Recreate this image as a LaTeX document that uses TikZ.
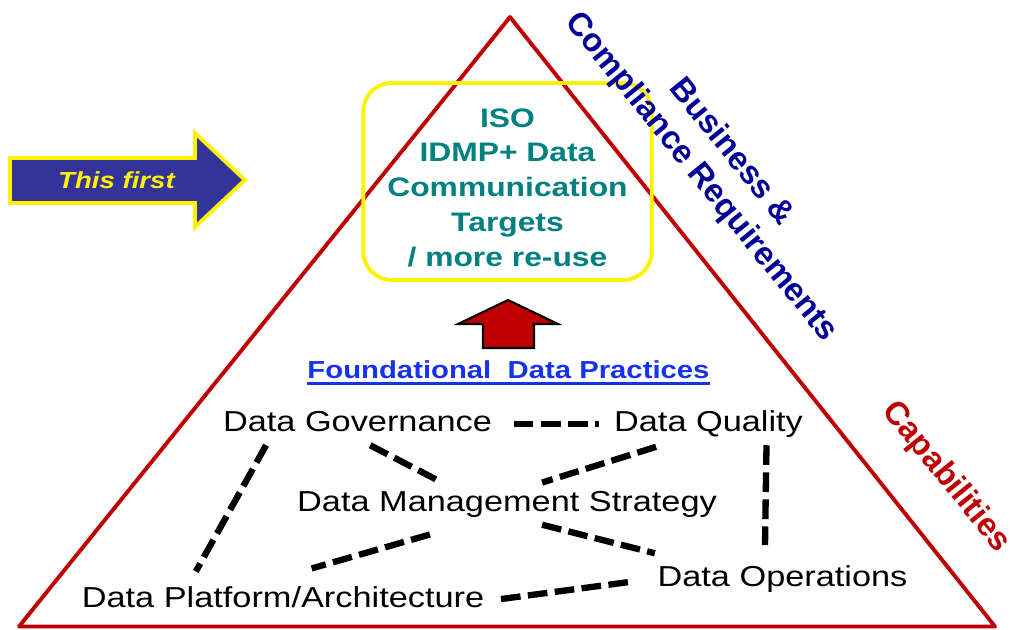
\documentclass[tikz,border=0pt]{standalone}
\usepackage{amsmath}
\usepackage{fontspec}
\setmainfont{Liberation Sans}
\newfontfamily\widesf[FakeStretch=1.19]{Liberation Sans}
\usepackage{tikz}

\definecolor{triRed}{RGB}{192,0,0}
\definecolor{idmpTeal}{RGB}{0,128,128}
\definecolor{bizNavy}{RGB}{0,0,153}
\definecolor{fdpBlue}{RGB}{20,50,240}
\definecolor{firstBlue}{RGB}{51,51,153}

\begin{document}
\begin{tikzpicture}[x=0.01cm, y=-0.01cm,
    practice/.style={anchor=base, inner sep=2pt, text height=5.9pt, text depth=1.7pt,
      font=\widesf\fontsize{8.2}{9.8}\selectfont},
    link/.style={line width=1.8pt, dash pattern=on 5.6pt off 2.1pt}]
                \useasboundingbox (0,0) rectangle (1010,629);

                % Big triangle
                \draw[triRed, line width=1.1pt, line join=round] (510,17) -- (995,626.5) -- (19,626.5) -- cycle;

                % Target box at the top
                \node[draw=yellow, line width=1.1pt, rounded corners=8pt, minimum width=82pt, minimum height=56pt]
                      (target) at (507.5,181.5) {};
                \node[align=center, text=idmpTeal, font=\widesf\bfseries\fontsize{7.6}{9.87}\selectfont]
                      (targettext) at (507.5,187.5) {ISO\\IDMP+ Data\\Communication\\Targets\\/ more re-use};

                % This first arrow
                \filldraw[fill=firstBlue, draw=yellow, line width=1.1pt]
                    (10,158) -- (195,158) -- (195,133) -- (245,180) -- (195,227) -- (195,203) -- (10,203) -- cycle;
                \node[anchor=base, inner sep=0pt, text=yellow, font=\widesf\bfseries\itshape\fontsize{6.6}{8}\selectfont]
                    (first) at (116.5,188.3) {This first};

                % Red arrow up
                \filldraw[fill=triRed, draw=black, line width=0.6pt]
                    (508,300) -- (558,324) -- (534,324) -- (534,348) -- (483,348) -- (483,324) -- (458,324) -- cycle;

                % Foundational practices
                \node[anchor=base, inner sep=0pt, text=fdpBlue, font=\widesf\bfseries\fontsize{7}{8}\selectfont]
                    (fdp) at (508.5,378) {Foundational\ \ Data Practices};
                \draw[fdpBlue, line width=0.75pt] ([yshift=-1.5pt]fdp.base west) -- ([yshift=-1.5pt]fdp.base east);

                \node[practice] (gov) at (357.5,431.5) {Data Governance};
                \node[practice] (dq) at (708.5,431.5) {Data Quality};
                \node[practice] (dms) at (507,511) {Data Management Strategy};
                \node[practice] (dpa) at (283,607.6) {Data Platform/Architecture};
                \node[practice] (dop) at (782.5,586.6) {Data Operations};

                \draw[link, shorten <=4pt, shorten >=2pt] (gov) -- (dq);
                \draw[link] (gov.-59) -- (dms.162);
                \draw[link, shorten <=1.5pt] (dq.204) -- (dms.31);
                \draw[link, shorten >=2.5pt] (gov.193) -- (dpa.167);
                \draw[link, shorten <=10pt, shorten >=11pt] (dms.206) -- (dpa.112);
                \draw[link, shorten >=5.6pt] (dms.-31) -- (dop.169);
                \draw[link, shorten >=3.7pt] (dq.-20) -- (dop.130);
                \draw[link, shorten <=2.6pt, shorten >=5.4pt] (dpa.east) -- (dop.west);

                % Side labels
                \node[rotate=-51, align=center, text=bizNavy, font=\bfseries\fontsize{9.3}{11.2}\selectfont]
                    (biz) at (716,165) {Business \&\\Compliance Requirements};
                \node[rotate=-51, text=triRed, font=\bfseries\fontsize{9.3}{11}\selectfont]
                    (cap) at (946,477) {Capabilities};
            \end{tikzpicture}
\end{document}
